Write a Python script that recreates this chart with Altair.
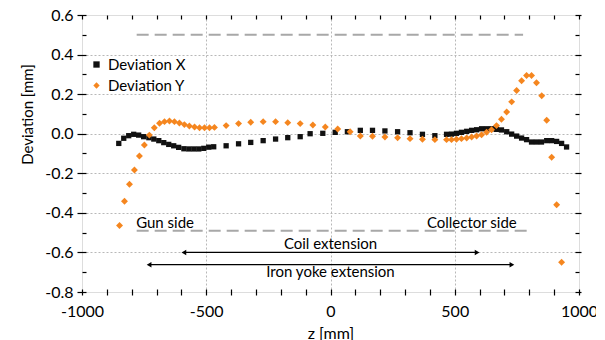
import altair as alt
import pandas as pd

# ---- data ----
x_z = [-852, -832, -812, -792, -772, -752, -731, -711, -691, -671, -651, -631, -611, -590, -570, -550, -530, -510, -490, -470,
       -420, -370, -321, -271, -221, -172, -122, -82, -31, 19, 68, 120, 169, 219, 270, 320, 370, 420,
       467, 487, 507, 527, 548, 568, 588, 608, 628, 648, 668, 688, 709, 729, 749, 769, 789, 809, 829, 849, 870, 890, 910, 930, 950]
x_dev = [-0.049, -0.023, -0.010, -0.003, -0.007, -0.015, -0.020, -0.027, -0.035, -0.045, -0.054, -0.061, -0.069, -0.076, -0.077, -0.077, -0.077, -0.074, -0.068, -0.066,
         -0.061, -0.051, -0.044, -0.035, -0.027, -0.020, -0.015, 0.000, 0.002, 0.007, 0.010, 0.017, 0.017, 0.014, 0.010, 0.005, -0.003, -0.010,
         -0.003, -0.002, 0.002, 0.007, 0.012, 0.017, 0.020, 0.025, 0.025, 0.025, 0.022, 0.019, 0.010, -0.002, -0.012, -0.022, -0.030, -0.042, -0.042, -0.042, -0.035, -0.035, -0.039, -0.049, -0.067]

y_z = [-849, -829, -809, -789, -769, -749, -729, -709, -688, -668, -648, -628, -608, -588, -568, -547, -527, -507, -487, -467,
       -420, -370, -321, -271, -221, -172, -122, -71, -21, 29, 79, 120, 169, 219, 270, 320, 370, 420,
       467, 487, 507, 527, 548, 568, 588, 608, 628, 648, 668, 688, 709, 729, 749, 769, 789, 809, 829, 850, 870, 890, 910, 930]
y_dev = [-0.464, -0.341, -0.255, -0.183, -0.113, -0.057, -0.007, 0.030, 0.053, 0.061, 0.064, 0.061, 0.054, 0.046, 0.039, 0.034, 0.030, 0.030, 0.030, 0.032,
         0.041, 0.051, 0.058, 0.061, 0.061, 0.056, 0.051, 0.044, 0.034, 0.024, 0.010, -0.012, -0.013, -0.017, -0.020, -0.025, -0.028, -0.030,
         -0.030, -0.030, -0.028, -0.025, -0.022, -0.017, -0.012, -0.005, 0.007, 0.020, 0.041, 0.073, 0.110, 0.161, 0.218, 0.268, 0.294, 0.294, 0.258, 0.192, 0.068, -0.119, -0.359, -0.650]

series_names = ["Deviation X", "Deviation Y"]
series_colors = ["#111111", "#F5861F"]
series_shapes = ["square", "diamond"]

# dashed side limits
dash_start = [-780, -780]
dash_end = [775, 797]
dash_level = [0.5, -0.49]

# extension arrows
arrow_start = [-590, -730]
arrow_end = [590, 730]
arrow_level = [-0.60, -0.662]

# annotations
note_text = ["Gun side", "Collector side", "Coil extension", "Iron yoke extension"]
note_z = [-782, 388, 0, 0]
note_y = [-0.452, -0.452, -0.556, -0.698]
note_align = ["left", "left", "center", "center"]

x_ticks = list(range(-1000, 1001, 100))
y_ticks = [round(-0.8 + 0.1 * i, 1) for i in range(15)]

FONT = "Lato"

points = pd.concat([
    pd.DataFrame({"z": x_z, "dev": x_dev, "series": series_names[0]}),
    pd.DataFrame({"z": y_z, "dev": y_dev, "series": series_names[1]}),
])
dash_df = pd.DataFrame({"z0": dash_start, "z1": dash_end, "y": dash_level})
arrow_df = pd.DataFrame({"z0": arrow_start, "z1": arrow_end, "y": arrow_level})
head_df = pd.DataFrame({
    "z": arrow_start + arrow_end,
    "y": arrow_level + arrow_level,
    "shape": ["triangle-left"] * 2 + ["triangle-right"] * 2,
})
note_df = pd.DataFrame({"t": note_text, "z": note_z, "y": note_y, "a": note_align})

xs = alt.Scale(domain=[-1000, 1000], nice=False, zero=False)
ys = alt.Scale(domain=[-0.8, 0.6], nice=False, zero=False)

x_major = "abs(round(datum.value)) % 500 == 0"
y_major = "abs(round(datum.value * 10)) % 2 == 0"

x_axis = alt.Axis(
    values=x_ticks,
    labelExpr="abs(round(datum.value)) % 500 == 0 ? '' + round(datum.value) : ''",
    grid=True, gridDash=[2, 2], gridColor="#b8b8b8", gridWidth=1,
    gridOpacity={"condition": {"test": x_major + " && abs(datum.value) < 1000", "value": 1}, "value": 0},
    domain=False, offset=-3, tickSize=6, tickColor="black", tickWidth=1.2,
    labelFont=FONT, labelFontSize=16, labelColor="black", labelPadding=8,
    labelFlush=False,
    title="z [mm]", titleFont=FONT, titleFontSize=16, titleFontWeight="normal", titleColor="black",
    titleBaseline="alphabetic", titleY=49,
)
y_axis = alt.Axis(
    values=y_ticks,
    labelExpr=y_major + " ? replace(format(datum.value, '.1f'), '\u2212', '-') : ''",
    grid=True, gridDash=[2, 2], gridColor="#b8b8b8", gridWidth=1,
    gridOpacity={"condition": {"test": y_major + " && datum.value > -0.75 && datum.value < 0.55", "value": 1}, "value": 0},
    domain=False, offset=-4,
    tickSize={"condition": {"test": y_major, "value": 9}, "value": 4},
    tickColor="black", tickWidth=1.2,
    labelFont=FONT, labelFontSize=16, labelColor="black", labelPadding=4,
    labelFlush=False,
    title="Deviation [mm]", titleFont=FONT, titleFontSize=15, titleFontWeight="normal", titleColor="black",
    titleX=-51, titleY=99,
)
x_axis_top = alt.Axis(orient="top", values=x_ticks, labels=False, grid=False, domain=False,
                      offset=-4, tickSize=4, tickColor="black", tickWidth=1.2, title=None)
y_axis_right = alt.Axis(orient="right", values=y_ticks, labels=False, grid=False, domain=False,
                        offset=-4,
                        tickSize={"condition": {"test": y_major, "value": 6}, "value": 4},
                        tickColor="black", tickWidth=1.2, title=None)

pts = alt.Chart(points).mark_point(filled=True, opacity=1).encode(
    x=alt.X("z:Q", scale=xs, axis=x_axis),
    y=alt.Y("dev:Q", scale=ys, axis=y_axis),
    color=alt.Color("series:N", scale=alt.Scale(domain=series_names, range=series_colors),
                    legend=alt.Legend(title=None, orient="none", legendX=7, legendY=42,
                                      labelFont=FONT, labelFontSize=15, labelColor="black",
                                      symbolSize=40, rowPadding=5, labelOffset=4)),
    shape=alt.Shape("series:N", scale=alt.Scale(domain=series_names, range=series_shapes)),
    size=alt.condition("datum.series == 'Deviation X'", alt.value(28), alt.value(48)),
)

dashes = alt.Chart(dash_df).mark_rule(color="#a8a8a8", strokeWidth=2, strokeDash=[12, 6]).encode(
    x=alt.X("z0:Q", scale=xs, axis=x_axis_top),
    x2="z1:Q",
    y=alt.Y("y:Q", scale=ys, axis=y_axis_right),
)

arrows = alt.Chart(arrow_df).mark_rule(color="black", strokeWidth=1.2).encode(
    x=alt.X("z0:Q", scale=xs, axis=None), x2="z1:Q", y=alt.Y("y:Q", scale=ys, axis=None),
)
heads = alt.Chart(head_df).mark_point(filled=True, color="black", opacity=1, size=30).encode(
    x=alt.X("z:Q", scale=xs, axis=None), y=alt.Y("y:Q", scale=ys, axis=None),
    shape=alt.Shape("shape:N", scale=None, legend=None),
)

notes_left = alt.Chart(note_df).transform_filter("datum.a == 'left'").mark_text(
    align="left", baseline="middle", font=FONT, fontSize=15, color="black").encode(
    x=alt.X("z:Q", scale=xs, axis=None), y=alt.Y("y:Q", scale=ys, axis=None), text="t:N")
notes_center = alt.Chart(note_df).transform_filter("datum.a == 'center'").mark_text(
    align="center", baseline="middle", font=FONT, fontSize=15, color="black").encode(
    x=alt.X("z:Q", scale=xs, axis=None), y=alt.Y("y:Q", scale=ys, axis=None), text="t:N")

chart = alt.layer(pts, dashes, arrows, heads, notes_left, notes_center).resolve_scale(
    x="independent", y="independent"
).resolve_axis(
    x="independent", y="independent"
).properties(
    width=497, height=277,
    autosize=alt.AutoSizeParams(type="none"),
    padding={"left": 74, "top": 7, "right": 17, "bottom": 48},
).configure_view(stroke="black", strokeWidth=1.5).configure(background="white")

chart.save("out.html", embed_options={"renderer": "svg", "actions": False})
